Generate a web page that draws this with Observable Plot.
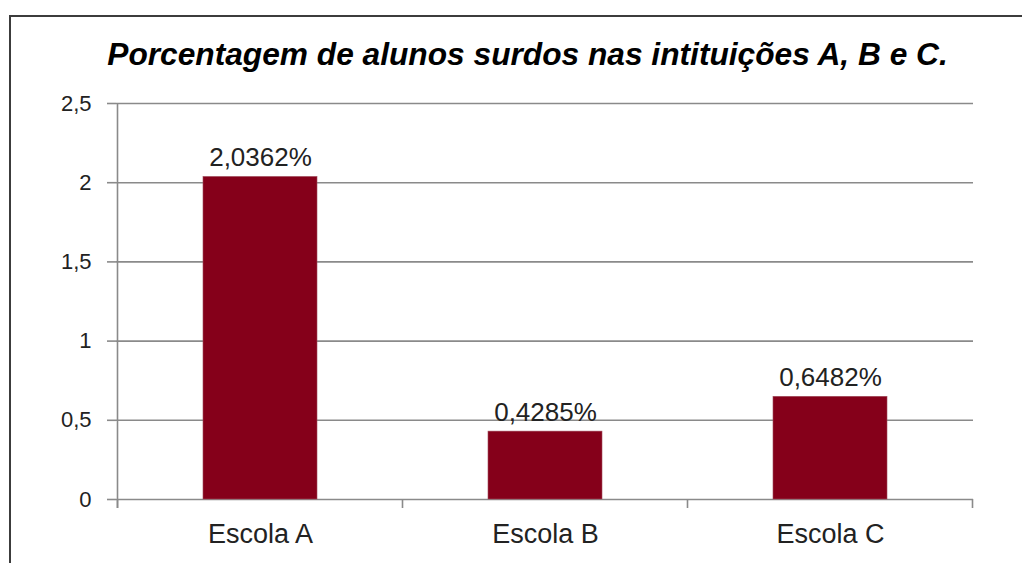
<!DOCTYPE html>
<html>
<head>
<meta charset="utf-8">
<script src="https://cdn.jsdelivr.net/npm/d3@7"></script>
<script src="https://cdn.jsdelivr.net/npm/@observablehq/plot@0.6"></script>
<style>
  html, body { margin: 0; padding: 0; background: #fff; overflow: hidden; }
  #wrap { position: relative; width: 1022px; height: 563px; overflow: hidden; }
  #frame { position: absolute; left: 9px; top: 15px; width: 1100px; height: 700px;
           border-left: 2px solid #3c3c3c; border-top: 2px solid #3c3c3c; box-sizing: border-box; }
  #title { position: absolute; left: 0; top: 38px; width: 1055px; text-align: center;
           font: italic bold 31.7px "Liberation Sans", Arial, sans-serif; line-height: 32px; color: #000; }
  #chart { position: absolute; left: 0; top: 0; }
</style>
</head>
<body>
<div id="wrap">
  <div id="frame"></div>
  <div id="chart"></div>
  <div id="title"></div>
</div>
<script>
const categories = ["Escola A", "Escola B", "Escola C"];
const values = [2.0362, 0.4285, 0.6482];
const yTicks = [0, 0.5, 1, 1.5, 2, 2.5];
const titleText = "Porcentagem de alunos surdos nas intituições A, B e C.";

const data = categories.map((c, i) => ({escola: c, valor: values[i]}));
const fmtTick = d => String(d).replace(".", ",");
const fmtLabel = d => d.toFixed(4).replace(".", ",") + "%";

document.getElementById("title").textContent = titleText;

const gridColor = "#8a8a8a";

// axis line on the left plus tick marks at the band boundaries (Excel style)
function axisFrame(index, scales, values, dims) {
  const x = scales.x, y = scales.y;
  const bw = x.bandwidth(), step = x.step();
  const g = d3.create("svg:g").attr("stroke", gridColor).attr("stroke-width", 1.6);
  const left = x(categories[0]) - (step - bw) / 2;
  const bounds = [left, ...categories.map(c => x(c) + bw + (step - bw) / 2)];
  const y0 = y(0), yTop = y(yTicks[yTicks.length - 1]);
  g.append("line").attr("x1", left).attr("x2", left).attr("y1", yTop).attr("y2", y0 + 9);
  for (const b of bounds) {
    g.append("line").attr("x1", b).attr("x2", b).attr("y1", y0).attr("y2", y0 + 9);
  }
  return g.node();
}

const chart = Plot.plot({
  width: 1022,
  height: 563,
  marginLeft: 116,
  marginRight: 49,
  marginTop: 103,
  marginBottom: 64,
  style: {fontFamily: "'Liberation Sans', Arial, sans-serif", background: "transparent", color: "#222"},
  x: {domain: categories, paddingInner: 0.6, paddingOuter: 0.3, axis: null},
  y: {domain: [0, 2.5], axis: null},
  marks: [
    Plot.ruleY(yTicks, {stroke: gridColor, strokeWidth: 1.6}),
    Plot.barY(data, {x: "escola", y: "valor", fill: "#85001a", stroke: "#a04a5a", strokeWidth: 0.6}),
    Plot.text(data, {x: "escola", y: "valor", text: d => fmtLabel(d.valor), lineAnchor: "bottom", dy: -11, fontSize: 26, fill: "#222"}),
    Plot.axisY(yTicks, {tickSize: 9, tickPadding: 16, tickFormat: fmtTick, fontSize: 22, stroke: gridColor, strokeWidth: 1.6, fill: "#222", label: null}),
    Plot.axisX({tickSize: 0, tickPadding: 24, fontSize: 27, fill: "#222", label: null}),
    Plot.ruleY([0], {stroke: "none", render: axisFrame})
  ]
});
document.getElementById("chart").appendChild(chart);
</script>
</body>
</html>
